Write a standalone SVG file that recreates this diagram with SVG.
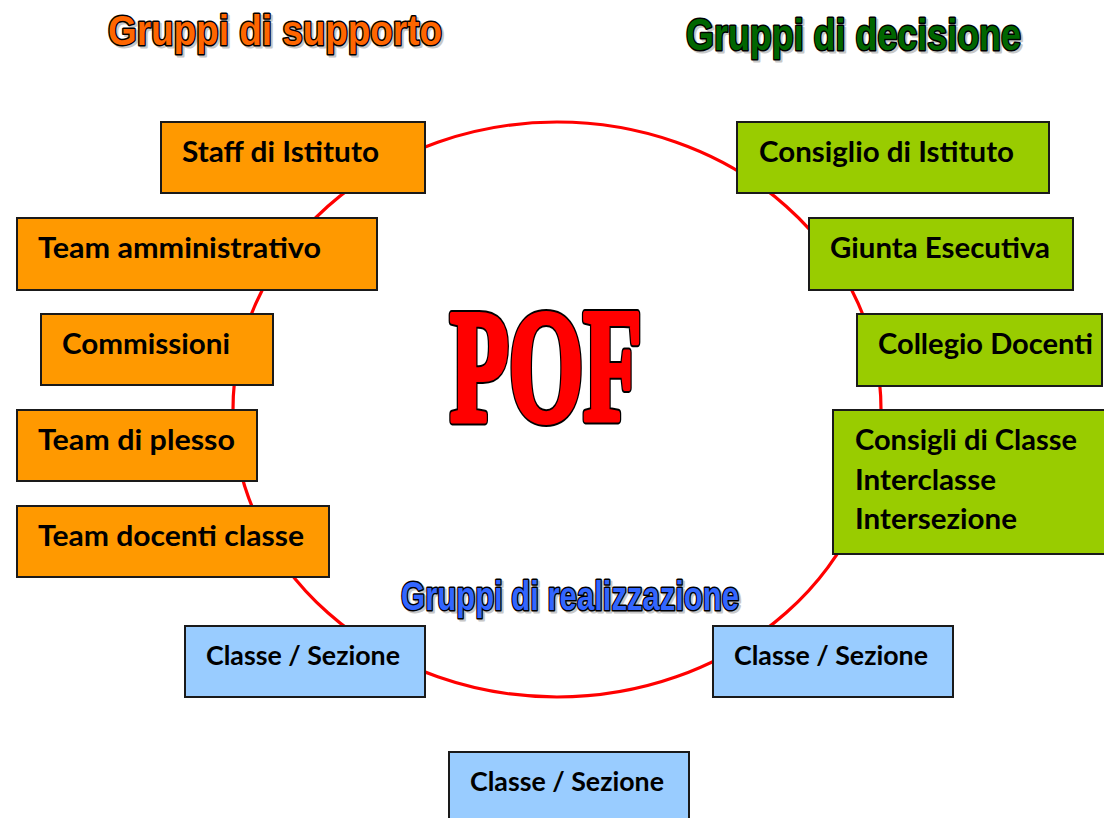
<svg xmlns="http://www.w3.org/2000/svg" width="1104" height="818" viewBox="0 0 1104 818">
<style>
.box{stroke:#1a1a1a;stroke-width:2}
.o{fill:#FF9900}
.g{fill:#99CC00}
.b{fill:#99CCFF}
.t{font-family:Lato,"Open Sans","Liberation Sans",sans-serif;font-weight:bold;font-size:28px;fill:#000}
.ts{font-family:Lato,"Open Sans","Liberation Sans",sans-serif;font-weight:bold;font-size:26px;fill:#000}
.title{font-family:"Liberation Sans",Arial,sans-serif;font-weight:bold;stroke:#000;stroke-width:3;paint-order:stroke;stroke-linejoin:round}
.shadow{font-family:"Liberation Sans",Arial,sans-serif;font-weight:bold;fill:#b0b0b0;stroke:#b0b0b0;stroke-width:3;stroke-linejoin:round;opacity:0.7}
.pof{font-family:"Liberation Serif","DejaVu Serif",serif;font-weight:bold;font-size:160px;stroke-linejoin:round}
</style>
<rect width="1104" height="818" fill="#fff"/>
<g id="connectors">
<ellipse cx="557" cy="409.5" rx="324" ry="287.5" fill="none" stroke="#FF0000" stroke-width="3.2"/>
</g>
<g id="titles">
<text class="shadow" x="110" y="47" font-size="42" textLength="334" lengthAdjust="spacingAndGlyphs">Gruppi di supporto</text>
<text class="title" x="108" y="45" font-size="42" textLength="334" lengthAdjust="spacingAndGlyphs" fill="#FF6600">Gruppi di supporto</text>
<text class="shadow" x="688" y="52" font-size="44" textLength="335" lengthAdjust="spacingAndGlyphs">Gruppi di decisione</text>
<text class="title" x="686" y="50" font-size="44" textLength="335" lengthAdjust="spacingAndGlyphs" fill="#006600">Gruppi di decisione</text>
<text class="shadow" x="403" y="612" font-size="40" textLength="338" lengthAdjust="spacingAndGlyphs">Gruppi di realizzazione</text>
<text class="title" x="401" y="610" font-size="40" textLength="338" lengthAdjust="spacingAndGlyphs" fill="#3366FF">Gruppi di realizzazione</text>
</g>
<g id="pof">
<text class="pof" x="450" y="420" textLength="192" lengthAdjust="spacingAndGlyphs" fill="#000" stroke="#000" stroke-width="10">POF</text>
<text class="pof" x="450" y="420" textLength="192" lengthAdjust="spacingAndGlyphs" fill="#FF0000" stroke="#FF0000" stroke-width="6">POF</text>
</g>
<g id="staff">
<rect class="box o" x="161" y="122" width="264" height="71"/>
<text class="t" x="182" y="162" textLength="197" lengthAdjust="spacingAndGlyphs">Staff di Istituto</text>
</g>
<g id="team-amministrativo">
<rect class="box o" x="17" y="218" width="360" height="72"/>
<text class="t" x="38" y="258" textLength="283" lengthAdjust="spacingAndGlyphs">Team amministrativo</text>
</g>
<g id="commissioni">
<rect class="box o" x="41" y="314" width="232" height="71"/>
<text class="t" x="62" y="354" textLength="168" lengthAdjust="spacingAndGlyphs">Commissioni</text>
</g>
<g id="team-plesso">
<rect class="box o" x="17" y="410" width="240" height="71"/>
<text class="t" x="38" y="450" textLength="197" lengthAdjust="spacingAndGlyphs">Team di plesso</text>
</g>
<g id="team-docenti">
<rect class="box o" x="17" y="506" width="312" height="71"/>
<text class="t" x="38" y="546" textLength="266" lengthAdjust="spacingAndGlyphs">Team docenti classe</text>
</g>
<g id="consiglio-istituto">
<rect class="box g" x="737" y="122" width="312" height="71"/>
<text class="t" x="759" y="162" textLength="255" lengthAdjust="spacingAndGlyphs">Consiglio di Istituto</text>
</g>
<g id="giunta">
<rect class="box g" x="809" y="218" width="264" height="72"/>
<text class="t" x="830" y="258" textLength="220" lengthAdjust="spacingAndGlyphs">Giunta Esecutiva</text>
</g>
<g id="collegio">
<rect class="box g" x="857" y="314" width="245" height="72"/>
<text class="t" x="878" y="354" textLength="215" lengthAdjust="spacingAndGlyphs">Collegio Docenti</text>
</g>
<g id="consigli-classe">
<rect class="box g" x="833" y="410" width="280" height="144"/>
<text class="t" x="855" y="450" textLength="222" lengthAdjust="spacingAndGlyphs">Consigli di Classe</text>
<text class="t" x="855" y="490" textLength="141" lengthAdjust="spacingAndGlyphs">Interclasse</text>
<text class="t" x="855" y="529" textLength="162" lengthAdjust="spacingAndGlyphs">Intersezione</text>
</g>
<g id="classe-1">
<rect class="box b" x="185" y="626" width="240" height="71"/>
<text class="ts" x="206" y="665" textLength="194" lengthAdjust="spacingAndGlyphs">Classe / Sezione</text>
</g>
<g id="classe-2">
<rect class="box b" x="713" y="626" width="240" height="71"/>
<text class="ts" x="734" y="665" textLength="194" lengthAdjust="spacingAndGlyphs">Classe / Sezione</text>
</g>
<g id="classe-3">
<rect class="box b" x="449" y="752" width="240" height="72"/>
<text class="ts" x="470" y="791" textLength="194" lengthAdjust="spacingAndGlyphs">Classe / Sezione</text>
</g>
</svg>
